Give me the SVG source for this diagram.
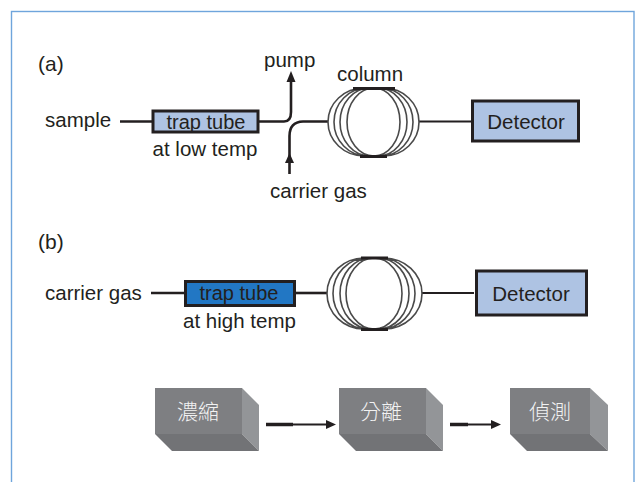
<svg xmlns="http://www.w3.org/2000/svg" width="639" height="482" viewBox="0 0 639 482">
<style>
text{font-family:"Liberation Sans",Arial,"Noto Sans CJK TC",sans-serif;font-size:20.500px;fill:#231f20}
.c{text-anchor:middle}
.w{font-size:21px;fill:#f2f2f2;font-family:"Noto Sans CJK TC",sans-serif;font-weight:300}
.box{stroke:#231f20;stroke-width:3}
.lite{fill:#aec3e3}
.line{fill:none;stroke:#231f20;stroke-width:2.600}
.ring{fill:none;stroke:#4a4a4a;stroke-width:1.600}
.bar{stroke:#231f20;stroke-width:3;fill:none}
.front{fill:#7e7f82}.side{fill:#939598}.under{fill:#727376}
</style>
<defs>
<g id="block"><rect class="front" x="0" y="0" width="87" height="46"/><path class="side" d="M87 0L104 17V63L87 46Z"/><path class="under" d="M0 46H87L104 63H17Z"/></g>
</defs>
<rect x="11.500" y="11.500" width="622.500" height="480" fill="#fff" stroke="#6fa5dc" stroke-width="1.400"/>
<text id="label-a" x="38" y="71" style="font-size:21px">(a)</text>
<text id="label-b" x="38" y="249" style="font-size:21px">(b)</text>
<g id="connectors">
<path class="line" d="M120 121.500H153"/>
<path class="line" d="M258 121.500H284Q291 121.500 291 112V78"/>
<path d="M291 71L286.500 82H295.500Z" fill="#231f20"/>
<path class="line" d="M289.500 174V136Q289.500 122 303 121.500H328"/>
<path d="M289.500 153L285 163H294Z" fill="#231f20"/>
<path class="line" style="stroke-width:2" d="M419 121.500H471"/>
<path class="line" d="M151 293H185"/>
<path class="line" d="M295 293H327"/>
<path class="line" style="stroke-width:2" d="M422 293H474"/>
<path class="line" style="stroke-width:3.500" d="M266 424.500H293"/>
<path class="line" style="stroke-width:2" d="M293 424.500H328"/>
<path d="M336 424.500L326 420V429Z" fill="#231f20"/>
<path class="line" style="stroke-width:3.500" d="M450 424.500H468"/>
<path class="line" style="stroke-width:2" d="M468 424.500H492"/>
<path d="M501 424.500L491 420V429Z" fill="#231f20"/>
</g>
<g id="sample"><text x="45" y="127">sample</text></g>
<g id="trap-a"><rect class="box lite" x="153" y="111" width="105" height="21"/><text class="c" x="206" y="129" style="font-size:20px">trap tube</text><text class="c" x="205" y="156">at low temp</text></g>
<g id="pump"><text x="264" y="67">pump</text></g>
<g id="carrier-a"><text x="270" y="198">carrier gas</text></g>
<g id="column-a">
<text x="337" y="81">column</text>
<path class="ring" d="M364 88A36 34 0 0 0 364 156M367 88A33 34 0 0 0 367 156M370 88A30 34 0 0 0 370 156M374 88A27 34 0 0 0 374 156M384 88A35 34 0 0 1 384 156M381 88A32 34 0 0 1 381 156M378 88A29 34 0 0 1 378 156M374 88A26 34 0 0 1 374 156"/>
<path class="bar" d="M353 88.500H395M360 156.500H387"/>
</g>
<g id="detector-a"><rect class="box lite" x="472.500" y="101" width="106" height="40"/><text class="c" x="526" y="129">Detector</text></g>
<g id="carrier-b"><text x="45" y="300">carrier gas</text></g>
<g id="trap-b"><rect class="box" fill="#2277c4" x="185.500" y="281.500" width="109" height="24"/><text class="c" x="239" y="300" style="font-size:20px">trap tube</text><text class="c" x="239.500" y="328">at high temp</text></g>
<g id="column-b">
<path class="ring" d="M364 258A37 35.500 0 0 0 364 329M367 258A34 35.500 0 0 0 367 329M371 258A31 35.500 0 0 0 371 329M374 258A28 35.500 0 0 0 374 329M384 258A38 35.500 0 0 1 384 329M381 258A34 35.500 0 0 1 381 329M378 258A31 35.500 0 0 1 378 329M374 258A28 35.500 0 0 1 374 329"/>
<path class="bar" d="M361 258H388M361 329.500H388"/>
</g>
<g id="detector-b"><rect class="box lite" x="476.500" y="271" width="110" height="44"/><text class="c" x="531" y="301">Detector</text></g>
<g id="step-1"><use href="#block" x="155" y="388"/><text class="w c" x="198" y="419">濃縮</text></g>
<g id="step-2"><use href="#block" x="339" y="388"/><text class="w c" x="381" y="419">分離</text></g>
<g id="step-3"><rect class="front" x="510" y="388" width="80" height="46"/><path class="side" d="M590 388L608 405V451L590 434Z"/><path class="under" d="M510 434H590L608 451H527Z"/><text class="w c" x="550" y="419">偵測</text></g>
</svg>
